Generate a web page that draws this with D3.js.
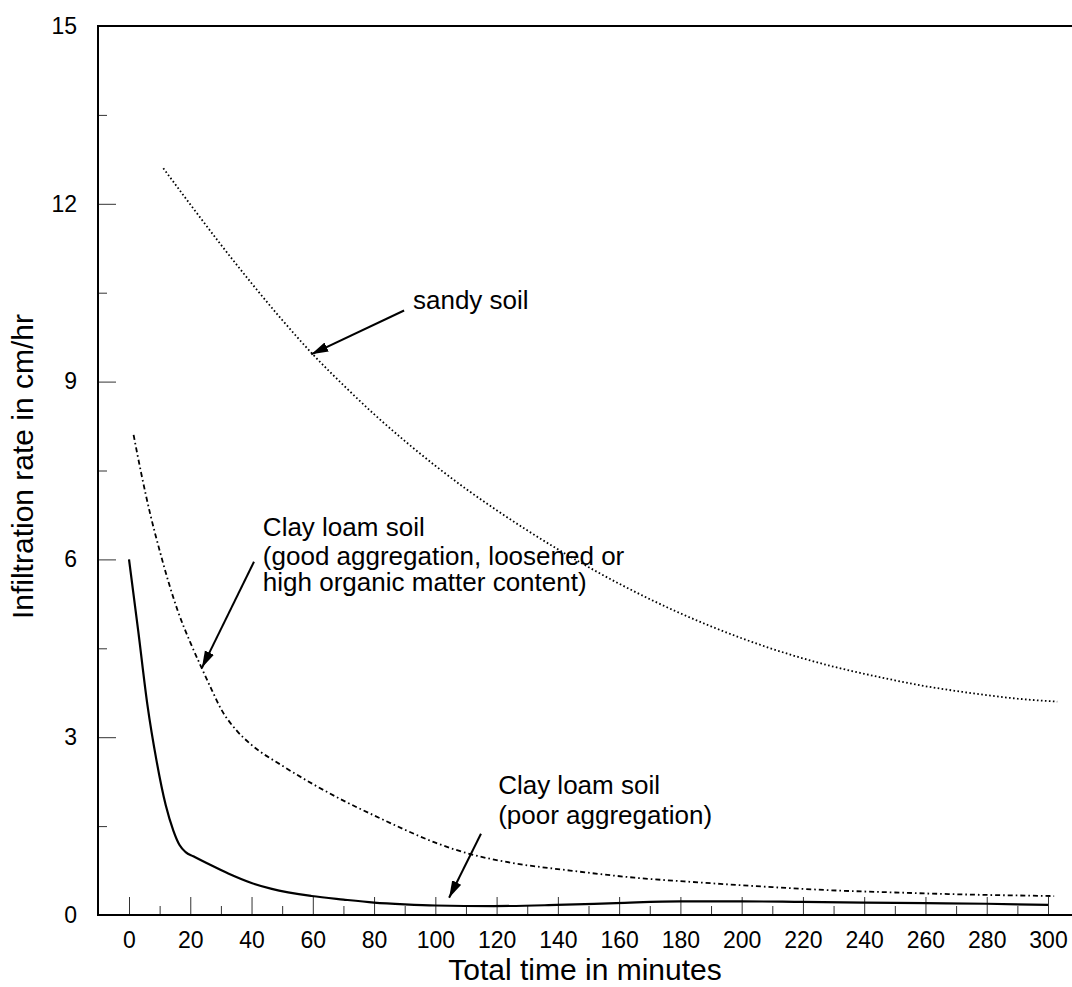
<!DOCTYPE html>
<html>
<head>
<meta charset="utf-8">
<script src="https://cdn.jsdelivr.net/npm/d3@7"></script>
<style>
  body { margin: 0; background: #fff; }
  svg { display: block; font-family: Arial, "Liberation Sans", sans-serif; }
</style>
</head>
<body>
<div id="chart"></div>
<script>
// tick values
var xMajorTicks = [0, 20, 40, 60, 80, 100, 120, 140, 160, 180, 200, 220, 240, 260, 280, 300];
var xMinorTicks = [10, 30, 50, 70, 90, 110, 130, 150, 170, 190, 210, 230, 250, 270, 290];
var yMajorTicks = [0, 3, 6, 9, 12, 15];
var yMinorTicks = [1.5, 4.5, 7.5, 10.5, 13.5];

// series: time (min) and infiltration rate (cm/hr)
var sandyTime = [11.2, 20, 30, 40, 50, 60, 70, 80, 90, 100, 110, 120, 130, 140, 150, 160, 170, 180, 190, 200, 210, 220, 230, 240, 250, 260, 270, 280, 290, 303];
var sandyRate = [12.6, 11.99, 11.31, 10.66, 10.04, 9.46, 8.94, 8.45, 8.0, 7.58, 7.19, 6.83, 6.49, 6.17, 5.87, 5.59, 5.33, 5.09, 4.87, 4.67, 4.49, 4.33, 4.19, 4.07, 3.96, 3.86, 3.78, 3.71, 3.65, 3.6];

var goodTime = [1.5, 4, 7, 10, 13, 16, 20, 23.7, 27, 30, 35, 40, 50, 60, 70, 80, 90, 100, 112, 125, 144, 165, 186, 210, 228, 250, 270, 302];
var goodRate = [8.1, 7.45, 6.75, 6.15, 5.6, 5.12, 4.6, 4.17, 3.8, 3.48, 3.12, 2.87, 2.52, 2.21, 1.93, 1.68, 1.44, 1.22, 1.02, 0.88, 0.75, 0.63, 0.55, 0.47, 0.42, 0.38, 0.35, 0.32];

var poorTime = [0, 3, 6, 9, 12, 14.5, 16.5, 18.5, 21, 26, 32.4, 40, 46.6, 59.6, 70, 80, 90, 100, 119, 139.6, 159, 180, 200, 220, 240, 260, 280, 300];
var poorRate = [6.0, 4.8, 3.55, 2.6, 1.85, 1.42, 1.18, 1.06, 0.99, 0.86, 0.7, 0.54, 0.44, 0.32, 0.26, 0.21, 0.18, 0.16, 0.15, 0.17, 0.2, 0.23, 0.23, 0.22, 0.21, 0.2, 0.19, 0.17];

// annotations, anchored in data units
var notes = [
  { lines: ["sandy soil"], at: [92.7, 10.22], from: [89.8, 10.2], to: [59.5, 9.46] },
  { lines: ["Clay loam soil", "(good aggregation, loosened or", "high organic matter content)"], at: [43.7, 6.4], from: [40.8, 5.96], to: [23.8, 4.17] },
  { lines: ["Clay loam soil", "(poor aggregation)"], at: [120.5, 2.04], from: [114.9, 1.37], to: [104.5, 0.29] }
];
var lineSteps = [0, 29.5, 26];

var width = 1072, height = 987;
var svg = d3.select("#chart").append("svg")
  .attr("width", width)
  .attr("height", height);

var x = d3.scaleLinear().domain([0, 300]).range([129, 1048]);
var y = d3.scaleLinear().domain([0, 15]).range([915, 26]);

// ticks pointing inward
var xAxis = svg.append("g")
  .attr("transform", "translate(0," + y(0) + ")")
  .call(d3.axisBottom(x).tickValues(xMajorTicks).tickSize(-18).tickPadding(17));
xAxis.append("g")
  .call(d3.axisBottom(x).tickValues(xMinorTicks).tickSize(-9).tickFormat(""));

var yAxis = svg.append("g")
  .attr("transform", "translate(98,0)")
  .call(d3.axisLeft(y).tickValues(yMajorTicks).tickSize(-18).tickPadding(21));
yAxis.append("g")
  .call(d3.axisLeft(y).tickValues(yMinorTicks).tickSize(-9).tickFormat(""));

svg.selectAll(".domain").remove();
svg.selectAll(".tick line").attr("stroke", "#333").attr("stroke-width", 1);
svg.selectAll(".tick text")
  .attr("font-size", 23)
  .attr("font-family", "Arial, 'Liberation Sans', sans-serif")
  .attr("fill", "#000");

// frame: left, top and bottom rules
var frame = svg.append("g").attr("stroke", "#000").attr("stroke-width", 2).attr("fill", "none");
frame.append("line").attr("x1", 98).attr("x2", 98).attr("y1", y(15)).attr("y2", y(0) + 1);
frame.append("line").attr("x1", 97).attr("x2", width).attr("y1", y(15)).attr("y2", y(15));
frame.append("line").attr("x1", 97).attr("x2", width).attr("y1", y(0)).attr("y2", y(0));

// curves
var line = d3.line()
  .x(function (d) { return x(d[0]); })
  .y(function (d) { return y(d[1]); })
  .curve(d3.curveMonotoneX);

var zip = function (a, b) { return a.map(function (v, i) { return [v, b[i]]; }); };

svg.append("path").datum(zip(sandyTime, sandyRate))
  .attr("d", line).attr("fill", "none")
  .attr("stroke", "#000").attr("stroke-width", 1.8)
  .attr("stroke-dasharray", "1.6,2.4");

svg.append("path").datum(zip(goodTime, goodRate))
  .attr("d", line).attr("fill", "none")
  .attr("stroke", "#000").attr("stroke-width", 1.8)
  .attr("stroke-dasharray", "5,3,1.6,3");

svg.append("path").datum(zip(poorTime, poorRate))
  .attr("d", line).attr("fill", "none")
  .attr("stroke", "#000").attr("stroke-width", 2.2);

// arrow heads
svg.append("defs").append("marker")
  .attr("id", "head")
  .attr("markerUnits", "userSpaceOnUse")
  .attr("markerWidth", 18).attr("markerHeight", 12)
  .attr("refX", 17).attr("refY", 5)
  .attr("orient", "auto")
  .append("path").attr("d", "M0,0 L17,5 L0,10 Z").attr("fill", "#000");

// annotations
notes.forEach(function (n) {
  svg.append("line")
    .attr("x1", x(n.from[0])).attr("y1", y(n.from[1]))
    .attr("x2", x(n.to[0])).attr("y2", y(n.to[1]))
    .attr("stroke", "#000").attr("stroke-width", 2)
    .attr("marker-end", "url(#head)");
  var t = svg.append("text")
    .attr("x", x(n.at[0]))
    .attr("y", y(n.at[1]))
    .attr("font-size", 26)
    .attr("fill", "#000");
  n.lines.forEach(function (s, i) {
    t.append("tspan")
      .attr("x", x(n.at[0]))
      .attr("dy", lineSteps[i])
      .text(s);
  });
});

// axis titles
svg.append("text")
  .attr("x", (98 + width) / 2)
  .attr("y", 980)
  .attr("text-anchor", "middle")
  .attr("font-size", 30)
  .text("Total time in minutes");

svg.append("text")
  .attr("transform", "translate(33," + (y(7.5) - 4) + ") rotate(-90)")
  .attr("text-anchor", "middle")
  .attr("font-size", 30)
  .text("Infiltration rate in cm/hr");
</script>
</body>
</html>
